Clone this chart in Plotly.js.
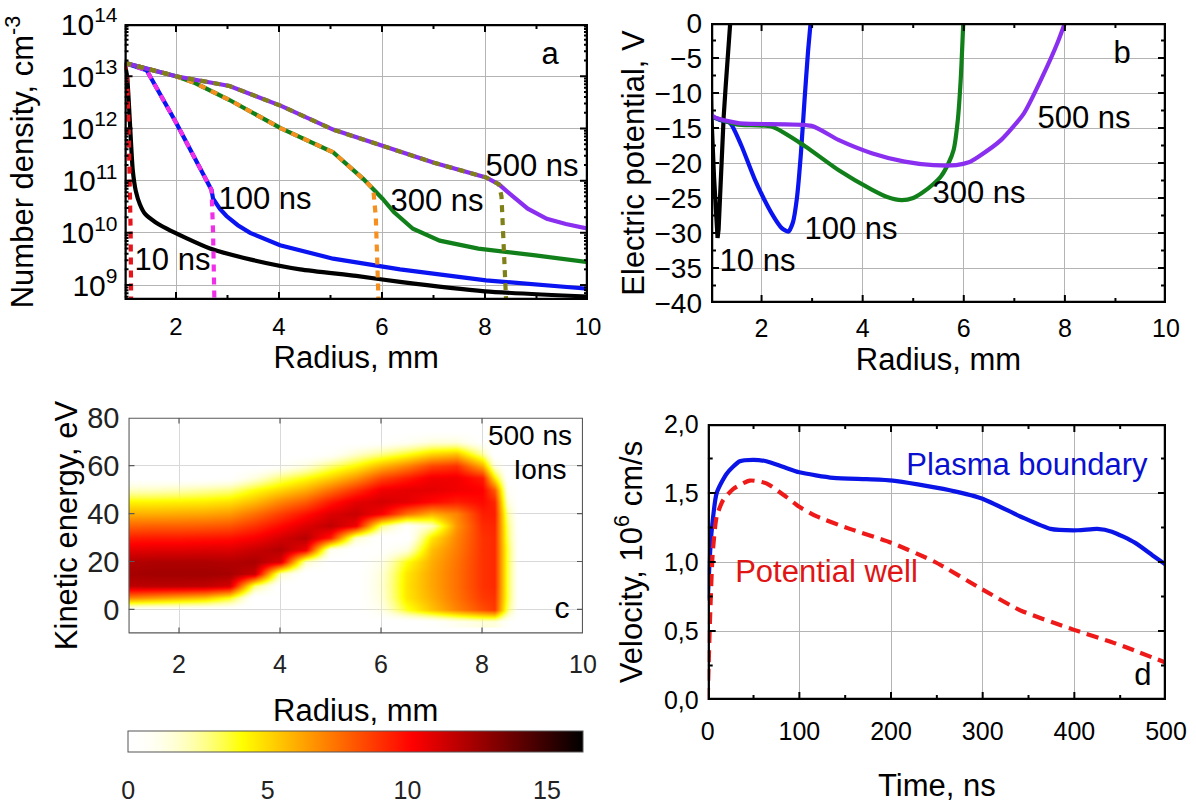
<!DOCTYPE html>
<html><head><meta charset="utf-8">
<script src="https://cdn.plot.ly/plotly-3.0.1.min.js"></script>
<style>html,body{margin:0;padding:0;background:#fff;}
#chart,#chartc{position:absolute;left:0;top:0;width:1196px;height:805px;}</style>
</head><body><div id="chart"></div><div id="chartc"></div>
<script>
// ---------- Panel a: number density (cm^-3) vs radius (mm) ----------
const a_x_10ns = [1.0, 1.05, 1.1, 1.16, 1.22, 1.3, 1.4, 1.6, 1.82, 2.2, 2.66, 3.5, 4.41, 5.5, 6.35, 8.0, 10.0];
const a_n_10ns = [1.8e13, 1.0e13, 1.6e12, 1.6e11, 6.3e10, 3.5e10, 2.3e10, 1.6e10, 1.2e10, 7.9e9, 5.0e9, 3.0e9, 2.0e9, 1.5e9, 1.15e9, 7.6e8, 6.0e8];
const a_x_10ns_ion = [1.0, 1.05, 1.08, 1.1, 1.12, 1.13];
const a_n_10ns_ion = [1.8e13, 1.0e13, 1.0e12, 1.0e11, 1.0e10, 3e8];
const a_x_100ns = [1.0, 1.43, 2.0, 2.69, 2.72, 2.85, 2.98, 3.2, 3.44, 4.02, 5.05, 6.35, 8.02, 10.0];
const a_n_100ns = [1.8e13, 1.3e13, 1.3e12, 6.6e10, 4.5e10, 2.9e10, 2.1e10, 1.4e10, 1.0e10, 5.8e9, 3.2e9, 2.0e9, 1.23e9, 8.5e8];
const a_x_100ns_ion = [1.0, 1.43, 2.0, 2.69, 2.72, 2.75];
const a_n_100ns_ion = [1.8e13, 1.3e13, 1.3e12, 6.6e10, 1.0e10, 3e8];
const a_x_300ns = [1.0, 2.0, 2.37, 3.04, 4.04, 5.05, 5.64, 5.83, 6.01, 6.23, 6.6, 7.12, 7.87, 8.98, 10.0];
const a_n_300ns = [1.8e13, 1.0e13, 7.4e12, 3.5e12, 1.0e12, 3.5e11, 1.07e11, 6.9e10, 4.5e10, 2.5e10, 1.2e10, 7.1e9, 5.0e9, 3.7e9, 2.75e9];
const a_x_300ns_ion = [1.0, 2.0, 2.37, 3.04, 4.04, 5.05, 5.64, 5.83, 5.88, 5.94];
const a_n_300ns_ion = [1.8e13, 1.0e13, 7.4e12, 3.5e12, 1.0e12, 3.5e11, 1.07e11, 6.9e10, 2.0e10, 3e8];
const a_x_500ns = [1.0, 2.0, 3.04, 4.04, 5.05, 6.01, 7.01, 8.02, 8.27, 8.53, 8.83, 9.2, 9.57, 10.0];
const a_n_500ns = [1.8e13, 1.0e13, 6.5e12, 2.7e12, 9.5e11, 4.6e11, 2.2e11, 1.15e11, 8.5e10, 5.1e10, 2.9e10, 1.86e10, 1.48e10, 1.2e10];
const a_x_500ns_ion = [1.0, 2.0, 3.04, 4.04, 5.05, 6.01, 7.01, 8.02, 8.27, 8.32, 8.42];
const a_n_500ns_ion = [1.8e13, 1.0e13, 6.5e12, 2.7e12, 9.5e11, 4.6e11, 2.2e11, 1.15e11, 8.5e10, 5.0e10, 3e8];

// ---------- Panel b: electric potential (V) vs radius (mm) ----------
const b_x_10ns = [1.0, 1.01, 1.06, 1.1, 1.13, 1.15, 1.18, 1.21, 1.25, 1.29, 1.33, 1.38];
const b_v_10ns = [-10, -13.6, -22, -28, -30.7, -29.5, -24, -18.6, -13.5, -9.1, -4.5, 0];
const b_x_100ns = [1.0, 1.2, 1.38, 1.6, 1.87, 2.2, 2.4, 2.53, 2.62, 2.7, 2.78, 2.85, 2.92, 2.97];
const b_v_100ns = [-13.3, -13.9, -14.3, -17.5, -22.4, -27.2, -29.3, -29.8, -28.5, -25, -18.5, -11, -4, 0];
const b_x_300ns = [1.0, 1.5, 2.2, 2.86, 3.52, 4.18, 4.5, 4.77, 5.0, 5.17, 5.4, 5.55, 5.7, 5.8, 5.88, 5.94, 5.99];
const b_v_300ns = [-13.3, -14.5, -14.8, -17.6, -21, -23.8, -24.9, -25.3, -25.0, -24.3, -23, -21.9, -20, -18.1, -14, -8, 0];
const b_x_500ns = [1.0, 1.02, 1.54, 2.99, 3.52, 4.18, 4.83, 5.4, 5.85, 6.1, 6.29, 6.74, 7.19, 7.56, 7.85, 8.0];
const b_v_500ns = [-9, -13.2, -14.3, -14.7, -16.7, -18.6, -19.8, -20.3, -20.3, -19.9, -19.1, -16.7, -12.9, -7.6, -2.9, 0];

// ---------- Panel c: ion energy distribution at 500 ns ----------
const c_radius = [1.0, 1.5, 2.0, 2.5, 3.0, 3.5, 4.0, 4.5, 5.0, 5.5, 6.0, 6.5, 7.0, 7.5, 8.0, 8.25, 8.5, 8.75];
const c_energy = [-5, 0, 5, 10, 15, 20, 25, 30, 35, 40, 45, 50, 55, 60, 65, 70, 75];
// one column (all energies) per radius value
const c_z_columns = [
  [0,0,7,11.8,12.3,12,10.8,9.5,7.8,6,4.3,2,0,0,0,0,0],
  [0,0,6.5,11.8,12.4,12.1,10.9,9.6,7.9,6,4.3,2,0,0,0,0,0],
  [0,0,6,11.8,12.4,12.1,10.9,9.6,7.9,6.1,4.4,2.2,0,0,0,0,0],
  [0,0,5.5,11.7,12.4,12.1,11,9.7,8,6.2,4.5,2.5,0,0,0,0,0],
  [0,0,4,11.2,12.3,12,11,9.8,8.2,6.5,4.8,2.8,0.3,0,0,0,0],
  [0,0,0,3,11.5,12.2,11.5,10.3,9,7.5,5.7,4,1.5,0,0,0,0],
  [0,0,0,0,2,11,12,11.2,10,8.7,7,5,3,0.5,0,0,0],
  [0,0,0,0,0,2,10.5,11.9,11,9.8,8,6,4,1.5,0,0,0],
  [0,0,0,0,0,0,1,9.5,11.7,11,9.6,7.5,5.2,3,0.5,0,0],
  [0,0,0,0,0,0,0,2,10.5,11.5,10.8,9,6.6,4.2,1.8,0,0],
  [0,1.2,1.6,1.7,1.6,1.2,0.4,0,3,10.3,11.2,10.5,8.5,5.8,2.8,0.3,0],
  [0,3.8,4.6,4.7,4.6,4,1.5,0,0.5,7.5,10.8,10.8,9.5,7,3.8,0.8,0],
  [0.3,5.5,6,6.2,6.2,6,5.6,4.6,2,6,10,10.8,10.5,8.5,5,1.5,0],
  [1,7,7.4,7.5,7.5,7.4,7.2,7,6.6,7,9.5,10.5,10.5,9,5.5,1.5,0],
  [1.5,8.3,8.8,9,9,9,9,9,9.2,9.5,10,10.2,9.5,6,2.5,0.3,0],
  [1.5,8.8,9,9.2,9.2,9.2,9.2,9.2,9.3,9.5,9.3,8,4.5,1.5,0,0,0],
  [0.5,3,3.5,3.5,3.5,3.5,3.5,3.2,3,2.5,1.5,0.8,0.2,0,0,0,0],
  [0,0,0,0,0,0,0,0,0,0,0,0,0,0,0,0,0]
];
const c_cbar_ticks = [0, 5, 10, 15];

// ---------- Panel d: velocity (10^6 cm/s) vs time (ns) ----------
const d_t_boundary = [0, 2, 4.4, 9.8, 20.7, 35, 50, 64, 82, 100, 137, 173, 202, 257, 299, 341, 374, 404, 425, 441, 466, 487, 500];
const d_v_boundary = [0.72, 1.0, 1.23, 1.50, 1.64, 1.73, 1.74, 1.73, 1.69, 1.65, 1.61, 1.60, 1.59, 1.53, 1.46, 1.33, 1.24, 1.23, 1.24, 1.22, 1.14, 1.04, 0.98];
const d_t_well = [0, 1, 2.5, 5.4, 9.8, 17, 28, 46, 64, 86, 100, 119, 155, 200, 248, 300, 341, 399, 445, 500];
const d_v_well = [0, 0.25, 0.58, 1.06, 1.33, 1.45, 1.53, 1.59, 1.57, 1.47, 1.40, 1.33, 1.24, 1.14, 1.0, 0.8, 0.65, 0.51, 0.41, 0.27];
const d_ytickvals = [0, 0.5, 1, 1.5, 2];
const d_yticktext = ['0,0', '0,5', '1,0', '1,5', '2,0'];

// ---------- in-plot labels: [text, pixel x, pixel y, font size, colour] ----------
const a_labels = [['a', 550, 56, 31, '#000'], ['500 ns', 532, 168, 31, '#000'], ['300 ns', 437, 203, 31, '#000'],
                  ['100 ns', 265, 201, 31, '#000'], ['10 ns', 172.5, 262.5, 31, '#000']];
const b_labels = [['b', 1122, 55, 31, '#000'], ['500 ns', 1084, 120, 31, '#000'], ['300 ns', 979, 195, 31, '#000'],
                  ['100 ns', 851, 231.5, 31, '#000'], ['10 ns', 757.5, 263, 31, '#000']];
const c_labels = [['500 ns', 530, 445, 28, '#000'], ['Ions', 540, 479, 28, '#000'], ['c', 562, 620, 30, '#000']];
const d_labels = [['Plasma boundary', 1027, 467, 31, '#0a10d0'], ['Potential well', 826.5, 574, 31, '#e01515'],
                  ['d', 1143, 677, 31, '#000']];

// ---------- build ----------
const FONT = 'Liberation Sans, Arial, Helvetica, sans-serif';
const W = 1196, H = 805;
const px = v => v / W, py = v => 1 - v / H;

// pixel frame of each panel and its axis ranges (log panels: y range in decades)
const FRAME = {
  a: {l: 124.5, r: 588, t: 24, b: 300, x0: 1, x1: 10, y0: 8.714, y1: 14, log: true},
  b: {l: 711, r: 1166, t: 23, b: 303, x0: 1, x1: 10, y0: -40, y1: 0},
  c: {l: 128.5, r: 583, t: 424, b: 643, x0: 1, x1: 10, y0: -10, y1: 80},
  d: {l: 707.7, r: 1166, t: 424, b: 700, x0: 0, x1: 500, y0: 0, y1: 2}
};
function labelTrace(labels, f, axId) {
  const xs = labels.map(l => f.x0 + (l[1] - f.l) / (f.r - f.l) * (f.x1 - f.x0));
  const ys = labels.map(l => {
    const v = f.y1 - (l[2] - f.t) / (f.b - f.t) * (f.y1 - f.y0);
    return f.log ? Math.pow(10, v) : v;
  });
  return {type: 'scatter', mode: 'text', x: xs, y: ys, text: labels.map(l => l[0]),
    textposition: 'middle center', cliponaxis: false, showlegend: false,
    xaxis: 'x' + axId, yaxis: 'y' + axId,
    textfont: {family: FONT, size: labels.map(l => l[3]), color: labels.map(l => l[4])}};
}

// box frame and inside tick marks (mirrored on all four sides), from the axis ranges and tick values
function range(a, b, step) { const out = []; for (let v = a; v <= b + 1e-9; v += step) out.push(+v.toFixed(6)); return out; }
function decor(f, axId, s) {
  const dx = (f.x1 - f.x0) / (f.r - f.l), dy = (f.y1 - f.y0) / (f.b - f.t);
  const Y = v => f.log ? Math.pow(10, v) : v;
  const base = {type: 'scatter', mode: 'lines', showlegend: false, xaxis: 'x' + axId, yaxis: 'y' + axId};
  function ticks(xv, yv, len, width) {
    const xs = [], ys = [];
    xv.forEach(v => {
      xs.push(v, v, null, v, v, null);
      ys.push(Y(f.y0), Y(f.y0 + len * dy), null, Y(f.y1), Y(f.y1 - len * dy), null);
    });
    yv.forEach(v => {
      xs.push(f.x0, f.x0 + len * dx, null, f.x1, f.x1 - len * dx, null);
      ys.push(Y(v), Y(v), null, Y(v), Y(v), null);
    });
    return Object.assign({}, base, {x: xs, y: ys, line: {color: s.color, width: width}});
  }
  const out = [
    ticks(s.xmaj, s.ymaj, s.majLen, s.tickW),
    Object.assign({}, base, {x: [f.x0, f.x1, f.x1, f.x0, f.x0], y: [f.y0, f.y0, f.y1, f.y1, f.y0].map(Y),
      line: {color: s.color, width: s.frameW}})
  ];
  if (s.xmin.length || s.ymin.length) out.unshift(ticks(s.xmin, [], s.minLen, s.tickW), ticks([], s.ymin, s.yminLen || s.minLen, s.tickW));
  return out;
}
const a_yminor = [];
for (let n = 8; n <= 13; n++) for (let k = 2; k <= 9; k++) { const v = n + Math.log10(k); if (v > 8.714 && v < 14) a_yminor.push(v); }

const heatZ = c_energy.map((e, i) => c_radius.map((r, j) => c_z_columns[j][i]));

const LW = 4.2, DASH = '7px,6px';
function line(x, y, color, ax, dash, spline) {
  return {x: x, y: y, mode: 'lines', type: 'scatter', xaxis: 'x' + ax, yaxis: 'y' + ax,
    line: {color: color, width: LW, dash: dash || 'solid', shape: spline ? 'spline' : 'linear', smoothing: 0.6},
    showlegend: false};
}
function ax(extra) {
  return Object.assign({showline: false, ticks: '', showgrid: true,
    gridcolor: '#b4b4b4', gridwidth: 1, zeroline: false,
    tickfont: {family: FONT, size: 24, color: '#000'}}, extra);
}
const titleFont = {family: FONT, size: 31, color: '#000'};

// ===== Figure 1: panels a, b, d =====
const traces = [
  line(a_x_10ns, a_n_10ns, '#000000', '', null, true),
  line(a_x_10ns_ion, a_n_10ns_ion, '#e8141c', '', DASH),
  line(a_x_100ns, a_n_100ns, '#0a14f0', ''),
  line(a_x_100ns_ion, a_n_100ns_ion, '#f030e8', '', DASH),
  line(a_x_300ns, a_n_300ns, '#12801a', ''),
  line(a_x_300ns_ion, a_n_300ns_ion, '#f59020', '', DASH),
  line(a_x_500ns, a_n_500ns, '#8a2ff0', ''),
  line(a_x_500ns_ion, a_n_500ns_ion, '#808018', '', DASH),
  line(b_x_10ns, b_v_10ns, '#000000', '2'),
  line(b_x_100ns, b_v_100ns, '#0a14f0', '2', null, true),
  line(b_x_300ns, b_v_300ns, '#12801a', '2', null, true),
  line(b_x_500ns, b_v_500ns, '#8a2ff0', '2', null, true),
  line(d_t_boundary, d_v_boundary, '#0a14e6', '4', null, true),
  line(d_t_well, d_v_well, '#ee1a1a', '4', '12px,7px', true)
].concat(
  decor(FRAME.a, '', {xmaj: [2, 4, 6, 8], xmin: [3, 5, 7, 9], ymaj: [9, 10, 11, 12, 13], ymin: a_yminor,
    color: '#000', frameW: 4.5, tickW: 2, majLen: 8, minLen: 5, yminLen: 4}),
  decor(FRAME.b, '2', {xmaj: [2, 4, 6, 8], xmin: [3, 5, 7, 9], ymaj: range(-35, -5, 5), ymin: range(-37.5, -2.5, 5),
    color: '#000', frameW: 4.5, tickW: 2, majLen: 8, minLen: 5}),
  decor(FRAME.d, '4', {xmaj: [100, 200, 300, 400], xmin: [50, 150, 250, 350, 450], ymaj: [0.5, 1, 1.5], ymin: [0.25, 0.75, 1.25, 1.75],
    color: '#000', frameW: 4.5, tickW: 2, majLen: 8, minLen: 5}),
  [labelTrace(a_labels, FRAME.a, ''), labelTrace(b_labels, FRAME.b, '2'), labelTrace(d_labels, FRAME.d, '4')]
);
const layout = {
  width: W, height: H, margin: {l: 0, r: 0, t: 0, b: 0}, paper_bgcolor: '#fff', plot_bgcolor: '#fff',
  showlegend: false, font: {family: FONT},
  xaxis: ax({domain: [px(124.5), px(588)], anchor: 'y', range: [1, 10], tick0: 0, dtick: 2,
    ticklabelstandoff: 10, title: {text: 'Radius, mm', font: titleFont, standoff: 0}}),
  yaxis: ax({domain: [py(300), py(24)], anchor: 'x', type: 'log', range: [8.714, 14],
    dtick: 1, exponentformat: 'power', showexponent: 'all',
    ticklabelstandoff: 6, title: {text: 'Number density, cm<sup>-3</sup>', font: titleFont, standoff: 17}}),
  xaxis2: ax({domain: [px(711), px(1166)], anchor: 'y2', range: [1, 10], tick0: 0, dtick: 2,
    tickfont: {family: FONT, size: 25, color: '#000'},
    ticklabelstandoff: 8, title: {text: 'Radius, mm', font: titleFont, standoff: 0}}),
  yaxis2: ax({domain: [py(303), py(23)], anchor: 'x2', range: [-40, 0], dtick: 5,
    tickfont: {family: FONT, size: 28, color: '#000'},
    ticklabelstandoff: 8, title: {text: 'Electric potential, V', font: titleFont, standoff: 0}}),
  xaxis4: ax({domain: [px(707.7), px(1166)], anchor: 'y4', range: [0, 500], dtick: 100,
    tickfont: {family: FONT, size: 25, color: '#000'},
    ticklabelstandoff: 14, title: {text: 'Time, ns', font: titleFont, standoff: 30}}),
  yaxis4: ax({domain: [py(700), py(424)], anchor: 'x4', range: [0, 2], tickmode: 'array',
    tickvals: d_ytickvals, ticktext: d_yticktext,
    tickfont: {family: FONT, size: 25, color: '#000'},
    ticklabelstandoff: 8, title: {text: 'Velocity, 10<sup>6</sup> cm/s', font: titleFont, standoff: 12}})
};

// ===== Figure 2 (overlaid, transparent paper): panel c with its colour bar =====
const tracesC = [
  {type: 'heatmap', x: c_radius, y: c_energy, z: heatZ, xaxis: 'x', yaxis: 'y', zsmooth: 'best',
   zmin: 0, zmax: 16.3,
   colorscale: [[0, 'rgba(255,255,255,0)'], [0.25, 'rgb(255,255,0)'], [0.625, 'rgb(255,0,0)'], [1, 'rgb(0,0,0)']],
   colorbar: {orientation: 'h', x: px(355.75), xanchor: 'center', y: py(742), yanchor: 'top',
     len: (583 - 128.5) / W, lenmode: 'fraction', thickness: 21, thicknessmode: 'pixels',
     xpad: 0, ypad: 0, outlinewidth: 1, outlinecolor: '#555',
     tickvals: c_cbar_ticks, ticks: 'outside', ticklen: 17, tickcolor: 'rgba(0,0,0,0)',
     tickfont: {family: FONT, size: 25, color: '#222'}}}
].concat(
  decor(FRAME.c, '', {xmaj: [2, 4, 6, 8], xmin: [], ymaj: [0, 20, 40, 60], ymin: [],
    color: '#5a5a5a', frameW: 2.2, tickW: 1.2, majLen: 6, minLen: 0}),
  [labelTrace(c_labels, FRAME.c, '')]
);
const layoutC = {
  width: W, height: H, margin: {l: 0, r: 0, t: 0, b: 0}, paper_bgcolor: 'rgba(0,0,0,0)', plot_bgcolor: '#fff',
  showlegend: false, font: {family: FONT},
  xaxis: ax({domain: [px(128.5), px(583)], anchor: 'y', range: [1, 10], tick0: 0, dtick: 2,
    gridcolor: '#d9d9d9', tickfont: {family: FONT, size: 25, color: '#222'},
    ticklabelstandoff: 14, title: {text: 'Radius, mm', font: titleFont, standoff: 21}}),
  yaxis: ax({domain: [py(643), py(424)], anchor: 'x', range: [-10, 80], tick0: 0, dtick: 20,
    gridcolor: '#d9d9d9', tickfont: {family: FONT, size: 29, color: '#222'},
    ticklabelstandoff: 8, title: {text: 'Kinetic energy, eV', font: titleFont, standoff: 0}})
};

Plotly.newPlot('chart', traces, layout, {staticPlot: true, displayModeBar: false});
Plotly.newPlot('chartc', tracesC, layoutC, {staticPlot: true, displayModeBar: false});
</script></body></html>
